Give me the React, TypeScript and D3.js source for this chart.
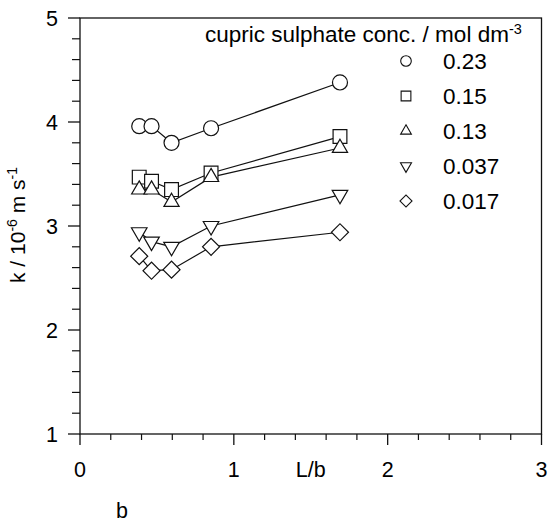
import React from "react";
import * as d3 from "d3";

// L/b positions shared by every series
const ratios = [0.385, 0.465, 0.595, 0.852, 1.69];

const concLabels = ["0.23", "0.15", "0.13", "0.037", "0.017"];
const kHigh = [3.96, 3.96, 3.8, 3.94, 4.38]; // 0.23
const kSquare = [3.47, 3.43, 3.35, 3.51, 3.86]; // 0.15
const kTri = [3.35, 3.35, 3.23, 3.47, 3.75]; // 0.13
const kDown = [2.94, 2.85, 2.8, 3.0, 3.3]; // 0.037
const kDiamond = [2.71, 2.57, 2.58, 2.8, 2.94]; // 0.017

const xTicks = [0, 1, 2, 3];
const yTicks = [1, 2, 3, 4, 5];

const sizing = { width: 550, height: 524, left: 80, right: 541.5, top: 18, bottom: 434 };

const font = "'Liberation Sans', Arial, sans-serif";

const seriesList = [
  { values: kHigh, shape: "circle" },
  { values: kSquare, shape: "square" },
  { values: kTri, shape: "up" },
  { values: kDown, shape: "down" },
  { values: kDiamond, shape: "diamond" }
];

// symbol path + rotation for a given shape, s = scale factor
function marker(shape: string, s: number) {
  if (shape === "circle") return { d: d3.symbol(d3.symbolCircle, 177 * s)(), rot: 0 };
  if (shape === "square") return { d: d3.symbol(d3.symbolSquare, 190 * s)(), rot: 0 };
  if (shape === "up") return { d: d3.symbol(d3.symbolTriangle, 100 * s)(), rot: 0 };
  if (shape === "down") return { d: d3.symbol(d3.symbolTriangle, 105 * s)(), rot: 180 };
  return { d: d3.symbol(d3.symbolSquare, 145 * s)(), rot: 45 };
}

function App() {
  const x = d3.scaleLinear().domain([0, 3]).range([sizing.left, sizing.right]);
  const y = d3.scaleLinear().domain([1, 5]).range([sizing.bottom, sizing.top]);

  const xMinor = d3.range(0, 3.001, 0.2).filter((v) => Math.abs(v - Math.round(v)) > 0.01);
  const yMinor = d3.range(1, 5.001, 0.2).filter((v) => Math.abs(v - Math.round(v)) > 0.01);

  const line = d3
    .line<number>()
    .x((d, i) => x(ratios[i]))
    .y((d) => y(d));

  const stroke = "#111";

  return (
    <svg
      width={sizing.width}
      height={sizing.height}
      style={{ position: "absolute", left: 0, top: 0, background: "white" }}
    >
      {/* frame */}
      <rect
        x={sizing.left}
        y={sizing.top}
        width={sizing.right - sizing.left}
        height={sizing.bottom - sizing.top}
        fill="none"
        stroke={stroke}
        strokeWidth={1.3}
      />

      {/* y ticks */}
      {yTicks.map((t) => (
        <g key={`yt${t}`}>
          <line x1={sizing.left - 12} x2={sizing.left} y1={y(t)} y2={y(t)} stroke={stroke} strokeWidth={1.3} />
          <text x={52} y={y(t) + 7.5} fontFamily={font} fontSize={21.5} textAnchor="middle">
            {t}
          </text>
        </g>
      ))}
      {yMinor.map((t, i) => (
        <line key={`ym${i}`} x1={sizing.left - 8} x2={sizing.left} y1={y(t)} y2={y(t)} stroke={stroke} strokeWidth={1.2} />
      ))}

      {/* x ticks */}
      {xTicks.map((t) => (
        <g key={`xt${t}`}>
          <line x1={x(t)} x2={x(t)} y1={sizing.bottom} y2={sizing.bottom + 11} stroke={stroke} strokeWidth={1.3} />
          <text x={x(t)} y={477} fontFamily={font} fontSize={21.5} textAnchor="middle">
            {t}
          </text>
        </g>
      ))}
      {xMinor.map((t, i) => (
        <line key={`xm${i}`} x1={x(t)} x2={x(t)} y1={sizing.bottom} y2={sizing.bottom + 6} stroke={stroke} strokeWidth={1.2} />
      ))}

      {/* axis titles */}
      <text x={x(1.5)} y={477} fontFamily={font} fontSize={21.5} textAnchor="middle">
        L/b
      </text>
      <text x={122} y={518} fontFamily={font} fontSize={21.5} textAnchor="middle">
        b
      </text>
      <text
        transform="translate(25,225) rotate(-90)"
        fontFamily={font}
        fontSize={21}
        textAnchor="middle"
      >
        k / 10
        <tspan fontSize={14} dy={-8}>-6</tspan>
        <tspan dy={8}> m s</tspan>
        <tspan fontSize={14} dy={-8}>-1</tspan>
      </text>

      {/* series lines */}
      {seriesList.map((s, i) => (
        <path key={`ln${i}`} d={line(s.values) || ""} fill="none" stroke={stroke} strokeWidth={1.2} />
      ))}

      {/* markers */}
      {seriesList.map((s, i) =>
        s.values.map((v, j) => {
          const m = marker(s.shape, 1);
          return (
            <path
              key={`mk${i}-${j}`}
              d={m.d || ""}
              transform={`translate(${x(ratios[j])},${y(v)}) rotate(${m.rot})`}
              fill="white"
              stroke={stroke}
              strokeWidth={1.2}
            />
          );
        })
      )}

      {/* legend */}
      <text x={205} y={42} fontFamily={font} fontSize={22.5}>
        cupric sulphate conc. / mol dm
        <tspan fontSize={14.5} dy={-8.5}>-3</tspan>
      </text>
      {seriesList.map((s, i) => {
        const m = marker(s.shape, 0.5);
        const ly = 61 + i * 35;
        return (
          <g key={`lg${i}`}>
            <path
              d={m.d || ""}
              transform={`translate(406,${ly}) rotate(${m.rot})`}
              fill="white"
              stroke={stroke}
              strokeWidth={1.1}
            />
            <text x={443} y={ly + 8} fontFamily={font} fontSize={22.5}>
              {concLabels[i]}
            </text>
          </g>
        );
      })}
    </svg>
  );
}

export default App;
